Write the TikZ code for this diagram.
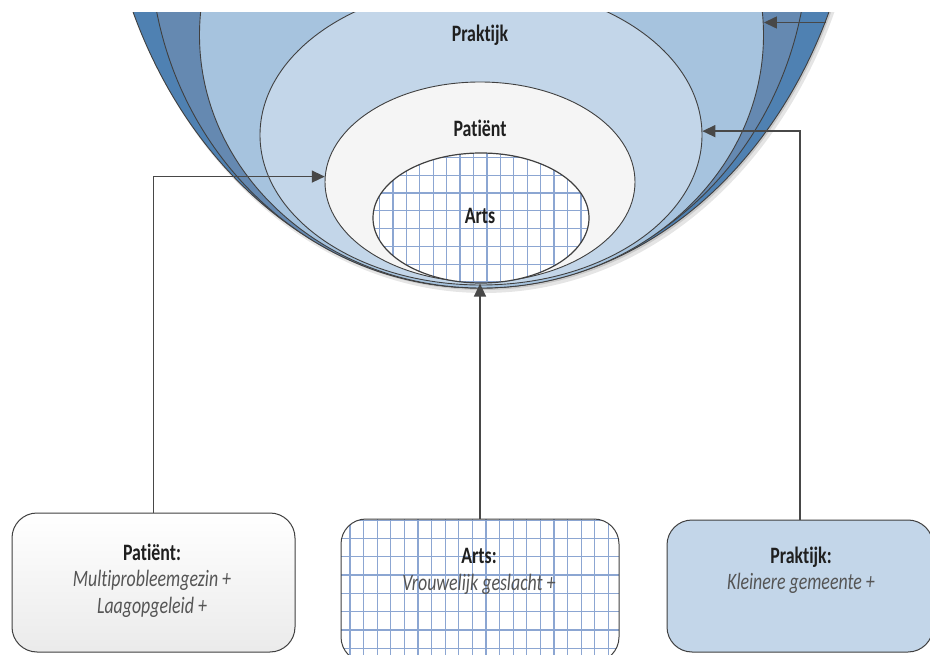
\documentclass[tikz,border=0pt]{standalone}
\usepackage{fontspec}
\setmainfont{Carlito}[FakeStretch=0.76,Ligatures=NoCommon]
\usetikzlibrary{arrows.meta,shapes.geometric}
\definecolor{outerblue}{RGB}{79,129,178}
\definecolor{midblue}{RGB}{101,137,177}
\definecolor{lightblue}{RGB}{166,195,222}
\definecolor{prakblue}{RGB}{195,214,233}
\definecolor{patgray}{RGB}{245,245,245}
\definecolor{gridblue}{RGB}{140,166,210}
\definecolor{edgegray}{RGB}{64,64,64}
\definecolor{conngray}{RGB}{72,72,72}
\definecolor{itgray}{RGB}{85,85,85}
\begin{document}
\begin{tikzpicture}[x=1pt,y=-1pt,
  layer/.style={ellipse, draw=edgegray, line width=0.9pt, inner sep=0pt},
  gridlines/.style={draw=gridblue, line width=1.3pt},
  conn/.style={draw=conngray, line width=1.4pt, -{Triangle[length=13pt,width=12pt]}},
  box/.style={rounded corners=25pt, draw=edgegray, line width=1pt, inner sep=0pt},
  lbl/.style={font=\fontsize{23.5}{26}\selectfont\bfseries, text=black!88, inner sep=0pt},
  boxtext/.style={align=center, inner sep=0pt, anchor=north, font=\fontsize{23.5}{26.5}\selectfont, text=itgray},
]
\clip (0,0) rectangle (930,655);
\fill[white] (0,0) rectangle (930,655);

\begin{scope}
  \clip (0,13) rectangle (930,655);
  % soft shadow
  \fill[black, opacity=0.10] (484,-170) ellipse [x radius=381pt, y radius=463pt];
  \fill[black, opacity=0.12] (482.5,-172) ellipse [x radius=380pt, y radius=462pt];
  \node[layer, fill=outerblue, minimum width=760pt, minimum height=924pt] (l1) at (481,-174) {};
  \node[layer, fill=midblue, minimum width=658pt, minimum height=692pt] (l2) at (479,-58) {};
  \node[layer, fill=lightblue, minimum width=564pt, minimum height=506pt] (l3) at (481.5,35) {};
  \node[layer, fill=prakblue, minimum width=442pt, minimum height=300pt] (prak) at (481,135) {};
  \node[layer, fill=patgray, minimum width=310pt, minimum height=200pt] (patE) at (480,182) {};
  \node[layer, fill=white, line width=1.2pt, minimum width=216pt, minimum height=130pt,
    path picture={
      \foreach \k in {0,...,16} {
        \draw[gridlines] ([xshift={\k*13.43pt+6.5pt}]path picture bounding box.north west) -- ([xshift={\k*13.43pt+6.5pt}]path picture bounding box.south west);
      }
      \foreach \k in {0,...,7} {
        \draw[gridlines] ([yshift={-\k*17.8pt-4.4pt}]path picture bounding box.north west) -- ([yshift={-\k*17.8pt-4.4pt}]path picture bounding box.north east);
      }
    }] (artsE) at (481,218) {};
\end{scope}

\node[lbl, anchor=base] (tprak) at (480,42) {Praktijk};
\node[lbl, anchor=base] (tpat) at (480,137) {Patiënt};
\node[lbl, anchor=base] (tarts) at (480,224) {Arts};

% boxes
\node[box, top color=white, bottom color=black!8, minimum width=283pt, minimum height=139pt] (pbox) at (153.5,582.5) {};
\node[box, fill=white, minimum width=278pt, minimum height=143pt,
  path picture={
    \foreach \k in {0,...,21} {
      \draw[gridlines] ([xshift={\k*13.6pt+9pt}]path picture bounding box.north west) -- ([xshift={\k*13.6pt+9pt}]path picture bounding box.south west);
    }
    \foreach \k in {0,...,8} {
      \draw[gridlines] ([yshift={-\k*18.3pt-1.2pt}]path picture bounding box.north west) -- ([yshift={-\k*18.3pt-1.2pt}]path picture bounding box.north east);
    }
  }] (abox) at (480,590.5) {};
\node[box, fill=prakblue, minimum width=266pt, minimum height=132pt] (kbox) at (800,586) {};

\node[boxtext] (ptxt) at (152,543.5) {\textbf{\color{black!88}Patiënt:}\\\textit{Multiprobleemgezin +}\\\textit{Laagopgeleid +}};
\node[boxtext] (atxt) at (479,548.5) {\textbf{\color{black!88}Arts:}\\\textit{Vrouwelijk geslacht +}};
\node[boxtext] (ktxt) at (801,546.5) {\textbf{\color{black!88}Praktijk:}\\\textit{Kleinere gemeente +}};

% connectors
\coordinate (tr) at (826,22.5);
\draw[conn] (pbox.north) |- (patE.178.5);
\draw[conn] (abox.north) -- (abox.north |- artsE.south);
\draw[conn] (kbox.north) |- (prak.1.3);
\draw[conn] (tr) -- (l3.east |- tr);
\end{tikzpicture}
\end{document}
